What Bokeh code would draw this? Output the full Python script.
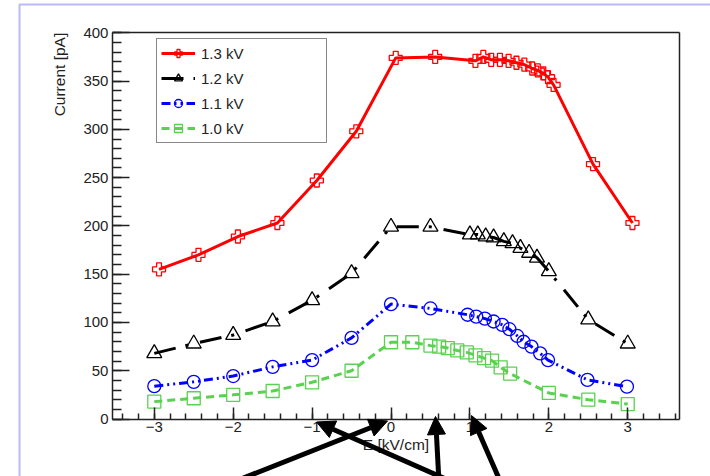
import math

from bokeh.plotting import figure
from bokeh.models import (Range1d, SingleIntervalTicker, FixedTicker, Legend,
                          LegendItem, Arrow, NormalHead, Label, LinearAxis,
                          BoxAnnotation)
from bokeh.embed import file_html
from bokeh.resources import INLINE

# ---- measured currents vs. drift field -------------------------------------
x_13kv = [-2.94, -2.44, -1.94, -1.44, -0.94, -0.44, 0.06, 0.56, 1.07, 1.17,
          1.27, 1.38, 1.49, 1.59, 1.69, 1.79, 1.86, 1.93, 1.99, 2.06, 2.56, 3.06]
i_13kv = [155, 170, 189, 203, 247, 298, 374, 375, 371, 375,
          372, 372, 371, 369, 367, 363, 361, 358, 354, 346, 264, 203]

x_12kv = [-3.0, -2.5, -2.0, -1.5, -1.0, -0.5, 0.0, 0.5, 1.0, 1.1,
          1.2, 1.3, 1.43, 1.54, 1.64, 1.75, 1.85, 2.0, 2.5, 3.0]
i_12kv = [68, 78, 87, 101, 123, 151, 199, 199, 191, 191,
          189, 188, 184, 182, 177, 172, 167, 153, 103, 78]

x_11kv = [-3.0, -2.5, -2.0, -1.5, -1.0, -0.5, 0.0, 0.5, 0.97, 1.08, 1.19,
          1.3, 1.41, 1.5, 1.6, 1.68, 1.78, 1.89, 1.99, 2.49, 2.99]
i_11kv = [34, 38.5, 44.5, 54, 61, 84, 119, 114.5, 108, 106, 104,
          101, 97.5, 93, 86, 80, 75, 68, 61, 40.5, 33.5]

x_10kv = [-3.0, -2.5, -2.0, -1.5, -1.0, -0.5, 0.0, 0.27, 0.5, 0.61, 0.72,
          0.84, 0.96, 1.07, 1.18, 1.28, 1.39, 1.51, 2.0, 2.5, 3.0]
i_10kv = [18, 21.5, 25, 29, 38, 50, 79.5, 79.5, 76, 75, 73.5,
          71, 69, 66, 63, 60.5, 53.5, 47, 27, 20, 15.5]

labels = ["1.3 kV", "1.2 kV", "1.1 kV", "1.0 kV"]

FONT = "Liberation Sans"
INK = "#222222"

# axis extents of the data box
X0, X1 = -3.53, 3.657
Y0, Y1 = 0, 400

# the frame fills the whole canvas; axes are pinned to the data box
p = figure(width=710, height=476, output_backend="svg", toolbar_location=None,
           x_range=Range1d(-4.949, 4.049), y_range=Range1d(-59.55, 433.45),
           min_border=0)
p.xgrid.visible = False
p.ygrid.visible = False
p.background_fill_color = "white"
p.border_fill_color = "white"
p.outline_line_color = None

xax = p.xaxis[0]
yax = p.yaxis[0]
xax.fixed_location = Y0
yax.fixed_location = X0
xax.bounds = (X0, X1)
yax.bounds = (Y0, Y1)
xax.ticker = SingleIntervalTicker(interval=1, num_minor_ticks=5)
yax.ticker = SingleIntervalTicker(interval=50, num_minor_ticks=5)
xax.major_label_overrides = {-3: "\u22123", -2: "\u22122", -1: "\u22121"}

for ax in (xax, yax):
    ax.axis_line_width = 1.5
    ax.axis_line_color = INK
    ax.major_tick_line_color = INK
    ax.minor_tick_line_color = INK
    ax.major_tick_line_width = 1.5
    ax.minor_tick_line_width = 1.5
    ax.major_tick_out = 0
    ax.minor_tick_out = 0
    ax.major_label_text_font = FONT
    ax.major_label_text_font_size = "15px"
    ax.major_label_text_color = INK

xax.major_tick_in = 12
xax.minor_tick_in = 6
yax.major_tick_in = 17
yax.minor_tick_in = 9
xax.major_label_standoff = 3
yax.major_label_standoff = 4

xax.axis_label = "E [kV/cm]"
xax.axis_label_text_font = FONT
xax.axis_label_text_font_size = "15.5px"
xax.axis_label_text_font_style = "normal"
xax.axis_label_text_color = INK
xax.axis_label_standoff = 0

# top and right sides of the data box
top = LinearAxis(fixed_location=Y1, bounds=(X0, X1),
                 ticker=FixedTicker(ticks=[], minor_ticks=[]),
                 axis_line_width=1.5, axis_line_color=INK,
                 major_tick_in=0, major_tick_out=0,
                 minor_tick_in=0, minor_tick_out=0)
right = LinearAxis(fixed_location=X1, bounds=(Y0, Y1),
                   ticker=FixedTicker(ticks=[], minor_ticks=[]),
                   axis_line_width=1.5, axis_line_color=INK,
                   major_tick_in=0, major_tick_out=0,
                   minor_tick_in=0, minor_tick_out=0)
p.add_layout(top, "above")
p.add_layout(right, "right")

# y title sits at the top end of the axis
p.add_layout(Label(x=-4.20, y=Y1, text="Current [pA]", angle=math.pi / 2,
                   text_align="right", text_baseline="middle",
                   text_font=FONT, text_font_size="15.5px",
                   text_color=INK))

styles = [
    (x_13kv, i_13kv, "#ff0000", "solid", "plus", 13),
    (x_12kv, i_12kv, "#000000", "22 10 3 12", "triangle", 15),
    (x_11kv, i_11kv, "#0000ff", "9 4 2 4 2 4", "circle", 13),
    (x_10kv, i_10kv, "#5ad150", "8 5", "square", 13),
]

items = []
for (xs, ys, color, dash, marker, size), lab in zip(styles, labels):
    rl = p.line(xs, ys, line_color=color, line_width=3, line_dash=dash)
    rm = p.scatter(xs, ys, marker=marker, size=size, line_color=color,
                   line_width=1.3, fill_alpha=0)
    items.append(LegendItem(label=lab, renderers=[rl, rm]))

legend = Legend(items=items, location=(156, 333), margin=0, padding=4,
                glyph_width=34, glyph_height=20, label_height=20,
                label_width=121, label_standoff=6, spacing=5,
                border_line_color="#111111", border_line_width=1.5,
                background_fill_color="white", background_fill_alpha=1,
                label_text_font=FONT, label_text_font_size="15px",
                label_text_color=INK)
p.add_layout(legend)

# pointer arrows under the field axis: (tail x, tail y, tip x, tip y)
pointers = [
    (-2.59, -84.4, -0.044, -2.1),
    (1.31, -84.4, -0.944, -3.1),
    (0.62, -84.4, 0.564, 2.6),
    (1.49, -84.4, 1.02, 3.6),
]
for xs_, ys_, xe_, ye_ in pointers:
    p.add_layout(Arrow(x_start=xs_, y_start=ys_, x_end=xe_, y_end=ye_,
                       line_width=5, line_color="black",
                       end=NormalHead(size=18, fill_color="black",
                                      line_color="black")))

# surrounding blue frame (runs off the right and bottom edges)
p.add_layout(BoxAnnotation(left=-4.708, right=6.0, top=429.3, bottom=-150,
                           fill_color=None, line_color="#1c1cd9",
                           line_width=2, level="underlay"))

open("out.html", "w").write(file_html(p, INLINE))
